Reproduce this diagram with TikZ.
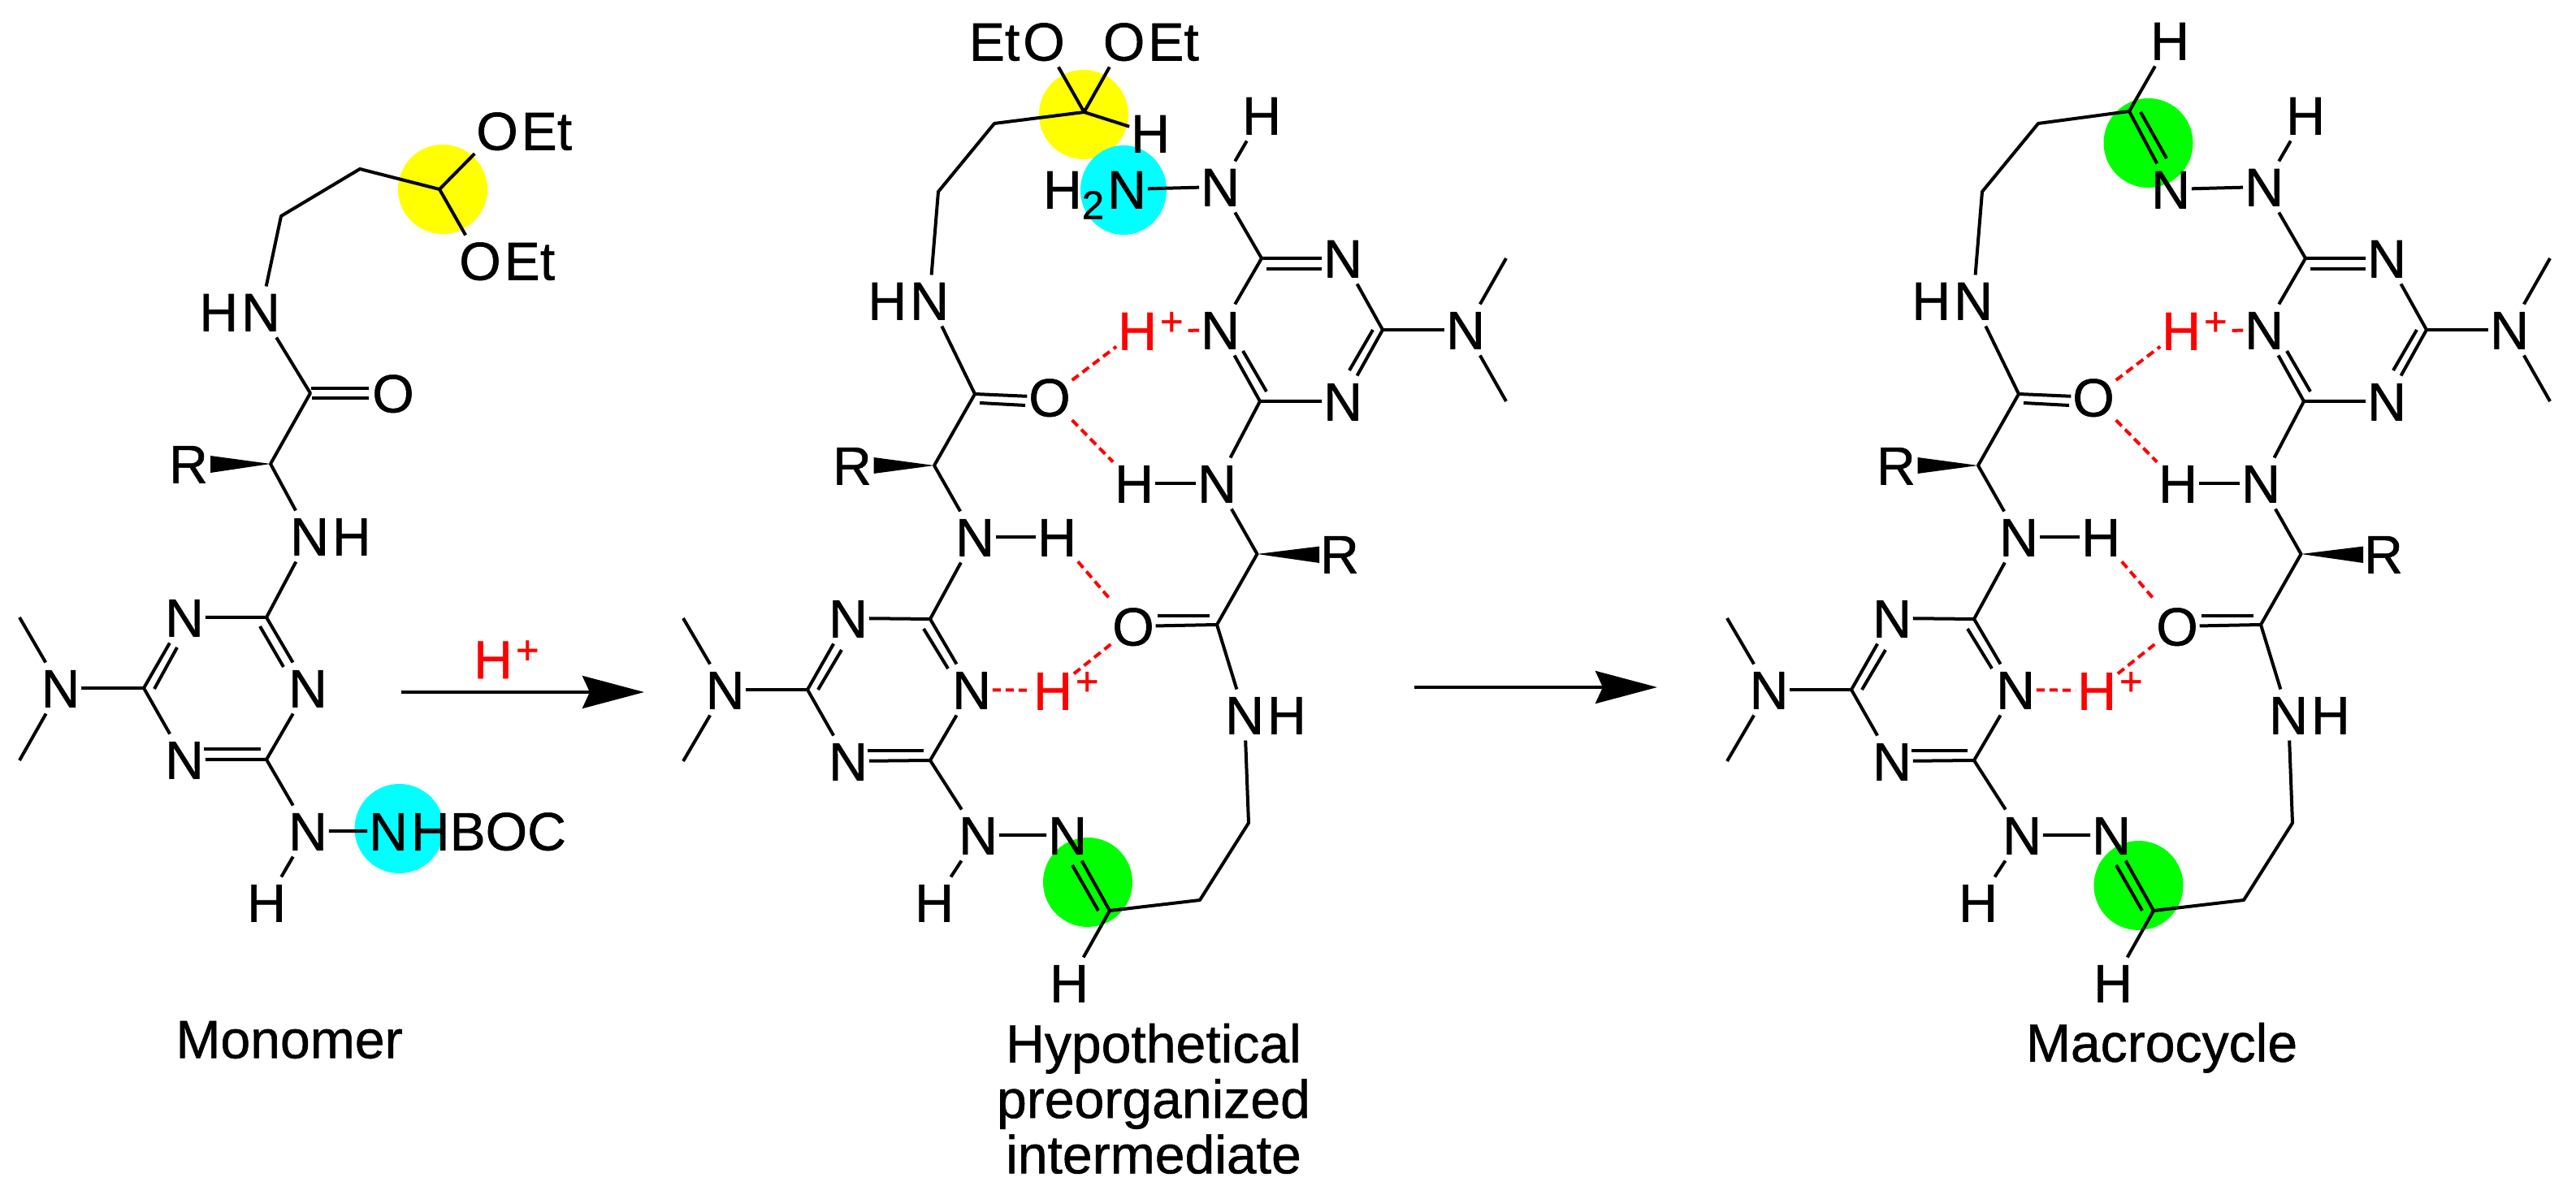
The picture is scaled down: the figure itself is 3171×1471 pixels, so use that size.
\documentclass[tikz,border=0pt]{standalone}
\usepackage{fontspec}
\setmainfont[FakeBold=.8]{Liberation Sans}
\usepackage{tikz}
\usetikzlibrary{arrows.meta}
\usepackage{xcolor}
\newcommand{\plusup}{\raisebox{.18cm}{\fontsize{14}{14}\selectfont +}}
\newcommand{\twodown}{\raisebox{-.13cm}{\fontsize{14}{14}\selectfont 2}}
\tikzset{
  atom/.style={font=\fontsize{18.8}{19.4}\selectfont,inner xsep=0pt,inner ysep=.06cm,text height=.47cm,text depth=0pt},
  caption/.style={font=\fontsize{18.8}{19.4}\selectfont,inner sep=0pt,align=center,anchor=north},
  hbond/.style={draw=red,dash pattern=on .10cm off .06cm},
  hdash/.style={draw=red,shorten <=.04cm},
  reaction/.style={-{Stealth[length=.76cm,width=.40cm,inset=.09cm]},line width=.04cm}
}
\begin{document}
\begin{tikzpicture}[x=.01cm,y=-.01cm,line width=.04cm,line join=round]
\definecolor{hlyellow}{RGB}{255,255,0}
\definecolor{hlcyan}{RGB}{0,255,255}
\definecolor{hlgreen}{RGB}{0,255,0}
\useasboundingbox (0,0) rectangle (3171,1471);
\fill[hlyellow] (545,233) ellipse (55 and 55);
\fill[hlcyan] (491.5,1020) ellipse (55 and 55);
\fill[hlyellow] (1334,141) ellipse (55 and 55);
\fill[hlcyan] (1383,234) ellipse (53 and 55);
\fill[hlgreen] (1339,1086) ellipse (55 and 55);
\fill[hlgreen] (2644.5,176) ellipse (55 and 55);
\fill[hlgreen] (2632.5,1090) ellipse (55 and 55);
% monomer
\coordinate (v1) at (541,233);
\coordinate (v2) at (443,208);
\coordinate (v3) at (346,266);
\node[atom] (v4) at (321,384) {N};
\node[atom,anchor=east] (v5) at (v4.west) {H};
\coordinate (v6) at (382,484);
\node[atom] (v7) at (484,484) {O};
\coordinate (v8) at (333,571);
\node[atom] (v9) at (232,571) {R};
\node[atom] (v10) at (381,660) {N};
\node[atom,anchor=west] (v11) at (v10.east) {H};
\coordinate (v12) at (328,760);
\node[atom] (v13) at (227,760) {N};
\coordinate (v14) at (177,847);
\node[atom] (v15) at (227,935) {N};
\coordinate (v16) at (328,935);
\node[atom] (v17) at (379,847) {N};
\node[atom] (v18) at (74.5,847) {N};
\coordinate (v19) at (24,760);
\coordinate (v20) at (24,936);
\node[atom] (v21) at (379,1023) {N};
\node[atom] (v22) at (478,1023) {N};
\node[atom,anchor=west] (v23) at (v22.east) {HBOC};
\node[atom] (v24) at (328,1111) {H};
\node[atom] (v25) at (612,161) {O};
\node[atom,anchor=west] (v26) at (v25.east) {Et};
\node[atom] (v27) at (591,321) {O};
\node[atom,anchor=west] (v28) at (v27.east) {Et};
\draw (v25) -- (v1) -- (v27);
\draw (v1) -- (v2) -- (v3) -- (v4) -- (v6) -- (v8) -- (v10) -- (v12);
\draw ([shift={(1,-6)}]v6) -- ([shift={(72,-6)}]v6);
\draw ([shift={(2,6)}]v6) -- ([shift={(72,6)}]v6);
\fill (v8) -- ([shift={(-74,-10)}]v8) -- ([shift={(-74,11)}]v8) -- cycle;
\draw (v13) -- (v12) -- (v17) -- (v16) -- (v15) -- (v14) -- (v13);
\draw ([shift={(-8,11)}]v12) -- ([shift={(21,61)}]v12);
\draw ([shift={(13,1)}]v14) -- ([shift={(41,-50)}]v14);
\draw ([shift={(-77,-13)}]v16) -- ([shift={(-7,-13)}]v16);
\draw (v14) -- (v18);
\draw (v19) -- (v18) -- (v20);
\draw (v16) -- (v21) -- (v22);
\draw (v21) -- (v24);
\node[caption] (v30) at (356,1255) {Monomer};
% first arrow
\coordinate (v31) at (494,852);
\coordinate (v32) at (793,852);
\draw[reaction] (v31) -- (v32);
\node[atom,text=red] (v33) at (607,811.5) {H};
\node[atom,text=red,anchor=west] (v34) at (v33.east) {\plusup};
% intermediate
\coordinate (v101) at (1334.5,138);
\coordinate (v102) at (1224,152);
\coordinate (v103) at (1155,236);
\node[atom] (v104) at (1144,370) {N};
\node[atom,anchor=east] (v105) at (v104.west) {H};
\coordinate (v106) at (1200,485);
\node[atom] (v107) at (1292,489) {O};
\coordinate (v108) at (1150,573);
\node[atom] (v109) at (1049,573) {R};
\node[atom] (v110) at (1200,661) {N};
\node[atom] (v111) at (1301,661) {H};
\coordinate (v112) at (1145,762);
\node[atom] (v113) at (1044,761) {N};
\coordinate (v114) at (994,849);
\node[atom] (v115) at (1044,937) {N};
\coordinate (v116) at (1145,936);
\node[atom] (v117) at (1196,849) {N};
\node[atom] (v118) at (892.5,849) {N};
\coordinate (v119) at (841,761);
\coordinate (v120) at (841,937);
\node[atom] (v121) at (1204,1028) {N};
\node[atom] (v122) at (1314,1028) {N};
\node[atom] (v124) at (1150,1111) {H};
\coordinate (v125) at (1366,1121);
\coordinate (v126) at (1477,1108);
\coordinate (v127) at (1537,1013);
\node[atom] (v128) at (1532,880) {N};
\node[atom,anchor=west] (v129) at (v128.east) {H};
\coordinate (v130) at (1498,769);
\node[atom] (v131) at (1395,771) {O};
\coordinate (v132) at (1547.5,682);
\node[atom] (v133) at (1649,682) {R};
\node[atom] (v134) at (1316,1210) {H};
\node[atom] (v135) at (1498,595) {N};
\node[atom] (v136) at (1396,595) {H};
\coordinate (v137) at (1551,494);
\node[atom] (v138) at (1653,494) {N};
\coordinate (v139) at (1702,406);
\node[atom] (v140) at (1653,318) {N};
\coordinate (v141) at (1553,318);
\node[atom] (v142) at (1502,406) {N};
\node[atom,text=red] (v143) at (1400,407) {H};
\node[atom,text=red,anchor=west] (v144) at (v143.east) {\plusup};
\node[atom] (v145) at (1804,406) {N};
\coordinate (v146) at (1854,318);
\coordinate (v147) at (1854,494);
\node[atom] (v148) at (1502,230) {N};
\node[atom] (v149) at (1553,142) {H};
\node[atom] (v150) at (1387,233) {N};
\node[atom,anchor=east] (v151) at (v150.west) {H\twodown};
\node[atom] (v152) at (1416,164) {H};
\node[atom] (v153) at (1285,51) {O};
\node[atom,anchor=east] (v154) at (v153.west) {Et};
\node[atom] (v155) at (1383.6,51) {O};
\node[atom,anchor=west] (v156) at (v155.east) {Et};
\node[atom,text=red] (v157) at (1296,850) {H};
\node[atom,text=red,anchor=west] (v158) at (v157.east) {\plusup};
\draw (v153) -- (v101) -- (v155);
\draw (v101) -- (v152);
\draw (v101) -- (v102) -- (v103) -- (v104) -- (v106) -- (v108) -- (v110) -- (v112);
\draw (v106) -- (v107);
\draw ([shift={(6,11)}]v106) -- ([shift={(62,14)}]v106);
\fill (v108) -- ([shift={(-74.5,-10)}]v108) -- ([shift={(-74.5,10)}]v108) -- cycle;
\draw (v110) -- (v111);
\draw (v113) -- (v112) -- (v117) -- (v116) -- (v115) -- (v114) -- (v113);
\draw ([shift={(-8,12)}]v112) -- ([shift={(22,61)}]v112);
\draw ([shift={(13,0)}]v114) -- ([shift={(42,-49)}]v114);
\draw ([shift={(-77,-12)}]v116) -- ([shift={(-8,-12)}]v116);
\draw (v114) -- (v118);
\draw (v119) -- (v118) -- (v120);
\draw (v116) -- (v121) -- (v122) -- (v125) -- (v126) -- (v127) -- (v128) -- (v130) -- (v132) -- (v135) -- (v137);
\draw (v121) -- (v124);
\draw ([shift={(-14,0)}]v125) -- ([shift={(-46,-56)}]v125);
\draw (v125) -- (v134);
\draw (v130) -- (v131);
\draw ([shift={(-73,-11)}]v130) -- ([shift={(-9,-11)}]v130);
\fill (v132) -- ([shift={(76.5,-9.4)}]v132) -- ([shift={(76.5,11)}]v132) -- cycle;
\draw (v135) -- (v136);
\draw (v137) -- (v138) -- (v139) -- (v140) -- (v141) -- (v142) -- (v137);
\draw ([shift={(6,13)}]v141) -- ([shift={(74,13)}]v141);
\draw ([shift={(-12,0)}]v139) -- ([shift={(-41,50)}]v139);
\draw ([shift={(-21,-62)}]v137) -- ([shift={(8,-12)}]v137);
\draw (v139) -- (v145);
\draw (v146) -- (v145) -- (v147);
\draw (v141) -- (v148) -- (v149);
\draw (v148) -- (v150);
\draw[hdash] (v144.east) -- (v142);
\draw[hbond] (v107) -- (v143);
\draw[hbond] (v107) -- (v136);
\draw[hbond] (v111) -- (v131);
\draw[hbond] (v131) -- (v157);
\draw[hbond] (v117) -- (v157);
\node[caption] (v160) at (1420,1258) {Hypothetical\\preorganized\\intermediate};
% second arrow
\coordinate (v61) at (1741,846);
\coordinate (v62) at (2040,846);
\draw[reaction] (v61) -- (v62);
% macrocycle
\coordinate (v201) at (2621,137);
\coordinate (v202) at (2509,152);
\coordinate (v203) at (2440,236);
\node[atom] (v204) at (2429,370) {N};
\node[atom,anchor=east] (v205) at (v204.west) {H};
\coordinate (v206) at (2485,485);
\node[atom] (v207) at (2577,489) {O};
\coordinate (v208) at (2435,573);
\node[atom] (v209) at (2334,573) {R};
\node[atom] (v210) at (2485,661) {N};
\node[atom] (v211) at (2586,661) {H};
\coordinate (v212) at (2430,762);
\node[atom] (v213) at (2329,761) {N};
\coordinate (v214) at (2279,849);
\node[atom] (v215) at (2329,937) {N};
\coordinate (v216) at (2430,936);
\node[atom] (v217) at (2481,849) {N};
\node[atom] (v218) at (2177.5,849) {N};
\coordinate (v219) at (2126,761);
\coordinate (v220) at (2126,937);
\node[atom] (v221) at (2489,1028) {N};
\node[atom] (v222) at (2599,1028) {N};
\node[atom] (v224) at (2435,1111) {H};
\coordinate (v225) at (2651,1121);
\coordinate (v226) at (2762,1108);
\coordinate (v227) at (2822,1013);
\node[atom] (v228) at (2817,880) {N};
\node[atom,anchor=west] (v229) at (v228.east) {H};
\coordinate (v230) at (2783,769);
\node[atom] (v231) at (2680,771) {O};
\coordinate (v232) at (2832.5,682);
\node[atom] (v233) at (2934,682) {R};
\node[atom] (v234) at (2601,1210) {H};
\node[atom] (v235) at (2783,595) {N};
\node[atom] (v236) at (2681,595) {H};
\coordinate (v237) at (2836,494);
\node[atom] (v238) at (2938,494) {N};
\coordinate (v239) at (2987,406);
\node[atom] (v240) at (2938,318) {N};
\coordinate (v241) at (2838,318);
\node[atom] (v242) at (2787,406) {N};
\node[atom,text=red] (v243) at (2685,407) {H};
\node[atom,text=red,anchor=west] (v244) at (v243.east) {\plusup};
\node[atom] (v245) at (3089,406) {N};
\coordinate (v246) at (3139,318);
\coordinate (v247) at (3139,494);
\node[atom] (v248) at (2787,230) {N};
\node[atom] (v249) at (2838,142) {H};
\node[atom] (v250) at (2672,233) {N};
\node[atom] (v252) at (2671,50) {H};
\node[atom,text=red] (v257) at (2581,850) {H};
\node[atom,text=red,anchor=west] (v258) at (v257.east) {\plusup};
\draw (v252) -- (v201) -- (v202) -- (v203) -- (v204) -- (v206) -- (v208) -- (v210) -- (v212);
\draw (v201) -- (v250) -- (v248);
\draw ([shift={(14,1)}]v201) -- ([shift={(46,58)}]v201);
\draw (v206) -- (v207);
\draw ([shift={(6,11)}]v206) -- ([shift={(62,14)}]v206);
\fill (v208) -- ([shift={(-74.5,-10)}]v208) -- ([shift={(-74.5,10)}]v208) -- cycle;
\draw (v210) -- (v211);
\draw (v213) -- (v212) -- (v217) -- (v216) -- (v215) -- (v214) -- (v213);
\draw ([shift={(-8,12)}]v212) -- ([shift={(22,61)}]v212);
\draw ([shift={(13,0)}]v214) -- ([shift={(42,-49)}]v214);
\draw ([shift={(-77,-12)}]v216) -- ([shift={(-8,-12)}]v216);
\draw (v214) -- (v218);
\draw (v219) -- (v218) -- (v220);
\draw (v216) -- (v221) -- (v222) -- (v225) -- (v226) -- (v227) -- (v228) -- (v230) -- (v232) -- (v235) -- (v237);
\draw (v221) -- (v224);
\draw ([shift={(-14,0)}]v225) -- ([shift={(-46,-56)}]v225);
\draw (v225) -- (v234);
\draw (v230) -- (v231);
\draw ([shift={(-73,-11)}]v230) -- ([shift={(-9,-11)}]v230);
\fill (v232) -- ([shift={(76.5,-9.4)}]v232) -- ([shift={(76.5,11)}]v232) -- cycle;
\draw (v235) -- (v236);
\draw (v237) -- (v238) -- (v239) -- (v240) -- (v241) -- (v242) -- (v237);
\draw ([shift={(6,13)}]v241) -- ([shift={(74,13)}]v241);
\draw ([shift={(-12,0)}]v239) -- ([shift={(-41,50)}]v239);
\draw ([shift={(-21,-62)}]v237) -- ([shift={(8,-12)}]v237);
\draw (v239) -- (v245);
\draw (v246) -- (v245) -- (v247);
\draw (v241) -- (v248) -- (v249);
\draw[hdash] (v244.east) -- (v242);
\draw[hbond] (v207) -- (v243);
\draw[hbond] (v207) -- (v236);
\draw[hbond] (v211) -- (v231);
\draw[hbond] (v231) -- (v257);
\draw[hbond] (v217) -- (v257);
\node[caption] (v260) at (2661,1257) {Macrocycle};
\end{tikzpicture}
\end{document}
